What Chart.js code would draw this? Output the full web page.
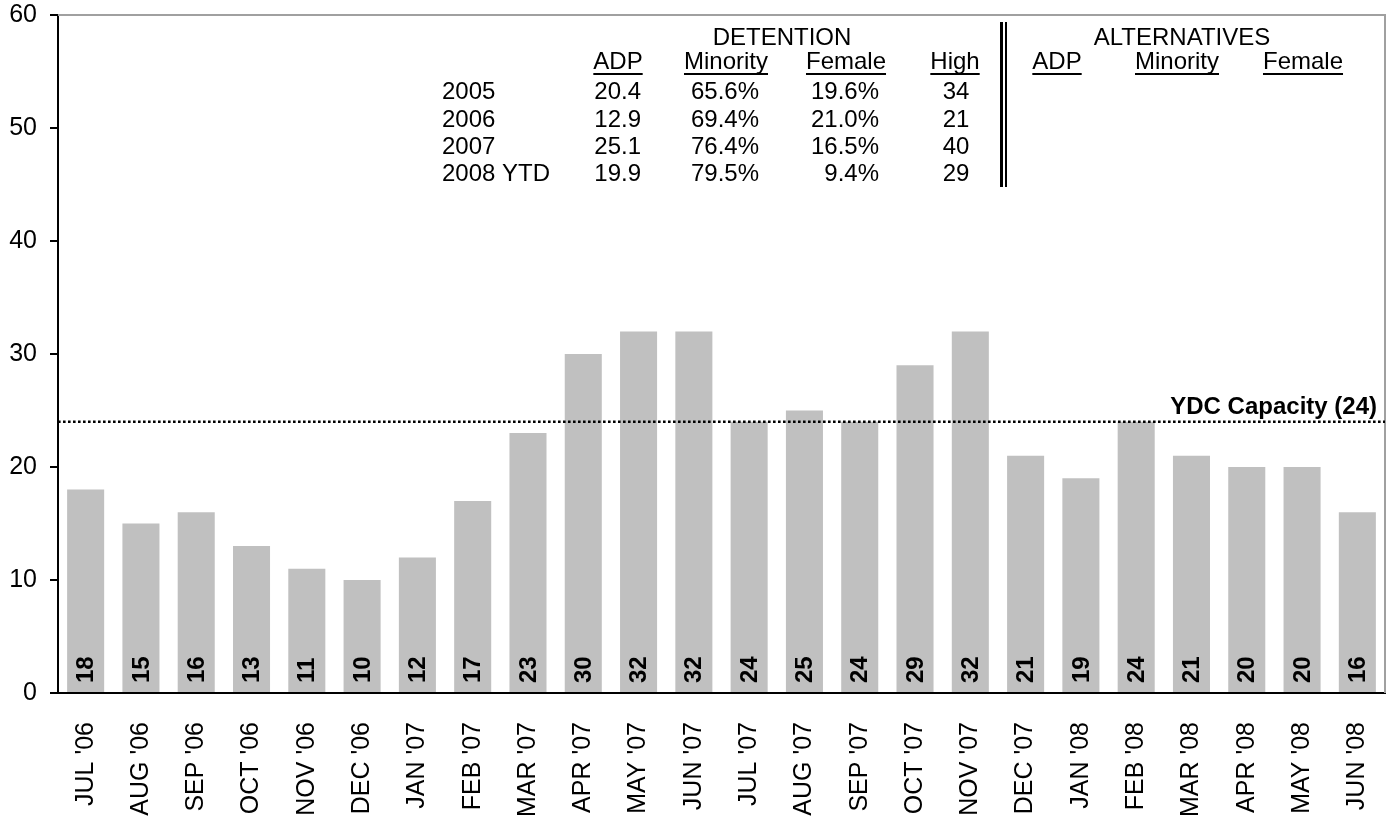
<!DOCTYPE html>
<html>
<head>
<meta charset="utf-8">
<script src="https://cdn.jsdelivr.net/npm/chart.js@4/dist/chart.umd.min.js"></script>
<style>
html,body{margin:0;padding:0;background:#fff;}
#wrap{width:1393px;height:816px;position:relative;}
</style>
</head>
<body>
<div id="wrap"><canvas id="c"></canvas></div>
<script>
const months = ["JUL '06","AUG '06","SEP '06","OCT '06","NOV '06","DEC '06","JAN '07","FEB '07","MAR '07","APR '07","MAY '07","JUN '07","JUL '07","AUG '07","SEP '07","OCT '07","NOV '07","DEC '07","JAN '08","FEB '08","MAR '08","APR '08","MAY '08","JUN '08"];
const adpValues = [18,15,16,13,11,10,12,17,23,30,32,32,24,25,24,29,32,21,19,24,21,20,20,16];
const capacity = 24;
const capacityLabel = "YDC Capacity (24)";
const yTicks = [0,10,20,30,40,50,60];

const tableYears = ["2005","2006","2007","2008 YTD"];
const tableADP = ["20.4","12.9","25.1","19.9"];
const tableMinority = ["65.6%","69.4%","76.4%","79.5%"];
const tableFemale = ["19.6%","21.0%","16.5%","9.4%"];
const tableHigh = ["34","21","40","29"];
const detentionHeaders = ["ADP","Minority","Female","High"];
const alternativesHeaders = ["ADP","Minority","Female"];

const FONT = "'Liberation Sans', Arial, sans-serif";

function underlined(ctx, text, cx, y){
  ctx.textAlign = 'center';
  ctx.fillText(text, cx, y);
  const w = ctx.measureText(text).width;
  ctx.fillRect(cx - w/2, y + 4, w, 2);
}

const overlay = {
  id: 'overlay',
  beforeDatasetsDraw(chart){
    const {ctx, chartArea:a} = chart;
    ctx.save();
    ctx.strokeStyle = '#a0a0a0';
    ctx.lineWidth = 2;
    ctx.beginPath();
    ctx.moveTo(a.left, a.top);
    ctx.lineTo(a.right, a.top);
    ctx.lineTo(a.right, a.bottom);
    ctx.stroke();
    ctx.restore();
  },
  afterDatasetsDraw(chart){
    const {ctx, chartArea:a} = chart;
    const meta = chart.getDatasetMeta(0);
    const ys = chart.scales.y;
    ctx.save();
    // bar value labels
    ctx.fillStyle = '#000';
    ctx.font = 'bold 24px ' + FONT;
    ctx.textAlign = 'left';
    ctx.textBaseline = 'middle';
    meta.data.forEach((bar, i) => {
      ctx.save();
      ctx.translate(bar.x, ys.getPixelForValue(0) - 10);
      ctx.rotate(-Math.PI/2);
      ctx.fillText(String(adpValues[i]), 0, 1);
      ctx.restore();
    });
    // capacity line
    const yc = ys.getPixelForValue(capacity);
    ctx.strokeStyle = '#000';
    ctx.lineWidth = 2.6;
    ctx.setLineDash([2.6, 2.4]);
    ctx.beginPath();
    ctx.moveTo(a.left, yc);
    ctx.lineTo(a.right, yc);
    ctx.stroke();
    ctx.setLineDash([]);
    ctx.font = 'bold 24px ' + FONT;
    ctx.textAlign = 'right';
    ctx.textBaseline = 'alphabetic';
    ctx.fillText(capacityLabel, 1377, yc - 8);

    // table
    ctx.font = '24px ' + FONT;
    ctx.fillStyle = '#000';
    ctx.textAlign = 'center';
    ctx.fillText('DETENTION', 782, 45);
    ctx.fillText('ALTERNATIVES', 1182, 45);
    const detX = [618, 726, 846, 955];
    detentionHeaders.forEach((h, i) => underlined(ctx, h, detX[i], 69));
    const altX = [1057, 1177, 1303];
    alternativesHeaders.forEach((h, i) => underlined(ctx, h, altX[i], 69));
    const rowY = [99, 126.5, 154, 181];
    tableYears.forEach((yr, i) => {
      ctx.textAlign = 'left';
      ctx.fillText(yr, 442, rowY[i]);
      ctx.textAlign = 'right';
      ctx.fillText(tableADP[i], 641, rowY[i]);
      ctx.fillText(tableMinority[i], 759, rowY[i]);
      ctx.fillText(tableFemale[i], 879, rowY[i]);
      ctx.textAlign = 'center';
      ctx.fillText(tableHigh[i], 956, rowY[i]);
    });
    // double vertical separator
    ctx.fillRect(1000, 22, 3, 165);
    ctx.fillRect(1005, 22, 2, 165);
    ctx.restore();
  }
};

new Chart(document.getElementById('c'), {
  type: 'bar',
  data: {
    labels: months,
    datasets: [{
      data: adpValues,
      backgroundColor: '#c0c0c0',
      borderWidth: 0,
      barPercentage: 0.67,
      categoryPercentage: 1.0
    }]
  },
  options: {
    responsive: true,
    maintainAspectRatio: false,
    animation: false,
    events: [],
    layout: { padding: { top: 15, right: 8, left: 0, bottom: 0 } },
    plugins: { legend: { display: false }, tooltip: { enabled: false } },
    scales: {
      x: {
        grid: { display: false },
        border: { display: true, color: '#000', width: 2 },
        ticks: {
          color: '#000',
          font: { family: FONT, size: 25 },
          minRotation: 90, maxRotation: 90,
          autoSkip: false,
          padding: 21
        },
        afterFit(scale){ scale.height = 123; scale.paddingLeft = 0; scale.paddingRight = 0; }
      },
      y: {
        min: 0, max: 60,
        afterBuildTicks(scale){ scale.ticks = yTicks.map(v => ({value: v})); },
        grid: { display: true, drawOnChartArea: false, drawTicks: true, tickLength: 8, color: '#000', lineWidth: 2 },
        border: { display: true, color: '#000', width: 2 },
        ticks: {
          color: '#000',
          font: { family: FONT, size: 25 },
          padding: 13
        },
        afterFit(scale){ scale.width = 58; scale.paddingTop = 0; scale.paddingBottom = 0; }
      }
    }
  },
  plugins: [overlay]
});
</script>
</body>
</html>
